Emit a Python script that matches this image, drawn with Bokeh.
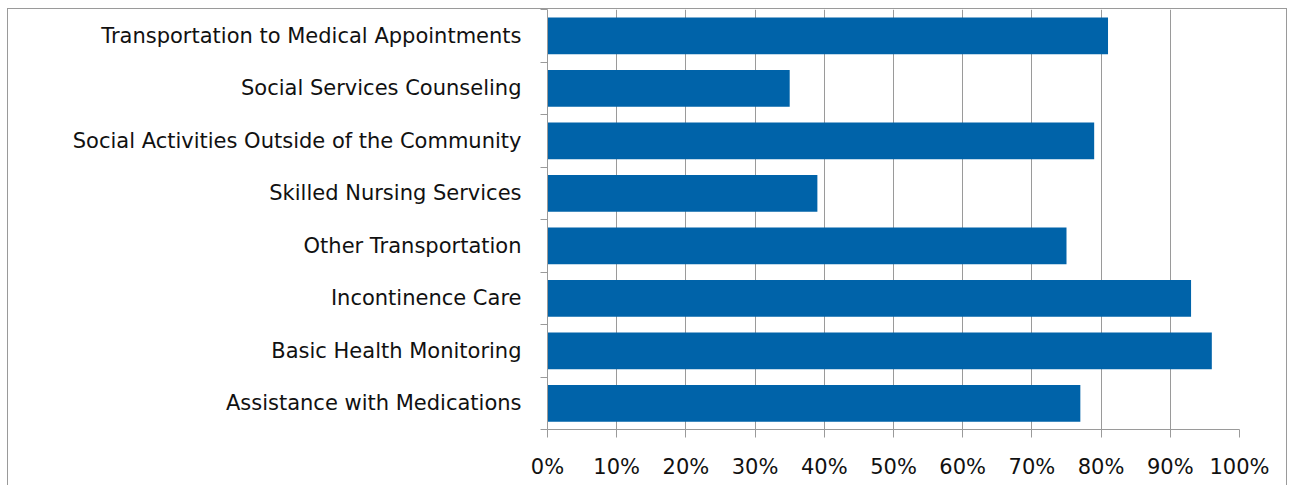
from bokeh.plotting import figure
from bokeh.models import Range1d, FixedTicker, NumeralTickFormatter
from bokeh.embed import file_html
from bokeh.resources import INLINE

# Data (top-to-bottom order as shown)
categories = [
    "Transportation to Medical Appointments",
    "Social Services Counseling",
    "Social Activities Outside of the Community",
    "Skilled Nursing Services",
    "Other Transportation",
    "Incontinence Care",
    "Basic Health Monitoring",
    "Assistance with Medications",
]
values = [0.81, 0.35, 0.79, 0.39, 0.75, 0.93, 0.96, 0.77]
x_ticks = [0.0, 0.1, 0.2, 0.3, 0.4, 0.5, 0.6, 0.7, 0.8, 0.9, 1.0]

n = len(categories)
centers = [i + 0.5 for i in range(n)]
boundaries = [float(i) for i in range(n + 1)]

FONT = "DejaVu Sans"
TEXT = "#111111"
GRAY = "#9a9a9a"

p = figure(
    width=1280, height=477,
    x_range=Range1d(0, 1), y_range=Range1d(n, 0),
    output_backend="svg", toolbar_location=None,
    min_border_left=539, min_border_right=49,
    min_border_top=0, min_border_bottom=57,
)
p.styles = {
    "margin-top": "8px",
    "margin-left": "7px",
    "border-top": f"1px solid {GRAY}",
    "border-left": f"1px solid {GRAY}",
    "border-right": f"1px solid {GRAY}",
}
p.outline_line_color = None
p.background_fill_color = "white"
p.border_fill_color = "white"

p.hbar(y=centers, left=0, right=values, height=0.7,
       fill_color="#0063A9", line_color=None)

# x axis
xa = p.xaxis[0]
xa.ticker = FixedTicker(ticks=x_ticks)
xa.formatter = NumeralTickFormatter(format="0%")
xa.axis_line_color = GRAY
xa.major_tick_line_color = GRAY
xa.major_tick_out = 8
xa.major_tick_in = 0
xa.minor_tick_line_color = None
xa.major_label_standoff = 17
xa.major_label_text_font = FONT
xa.major_label_text_font_size = "21px"
xa.major_label_text_color = TEXT

# y axis
ya = p.yaxis[0]
ya.ticker = FixedTicker(ticks=centers, minor_ticks=boundaries)
ya.major_label_overrides = {c: lab for c, lab in zip(centers, categories)}
ya.axis_line_color = GRAY
ya.major_tick_line_color = None
ya.major_tick_out = 0
ya.major_tick_in = 0
ya.minor_tick_line_color = GRAY
ya.minor_tick_out = 7
ya.minor_tick_in = 0
ya.major_label_standoff = 19
ya.major_label_text_font = FONT
ya.major_label_text_font_size = "21px"
ya.major_label_text_color = TEXT

p.xgrid.grid_line_color = GRAY
p.xgrid.grid_line_width = 1
p.ygrid.grid_line_color = None

open("out.html", "w").write(file_html(p, INLINE))
